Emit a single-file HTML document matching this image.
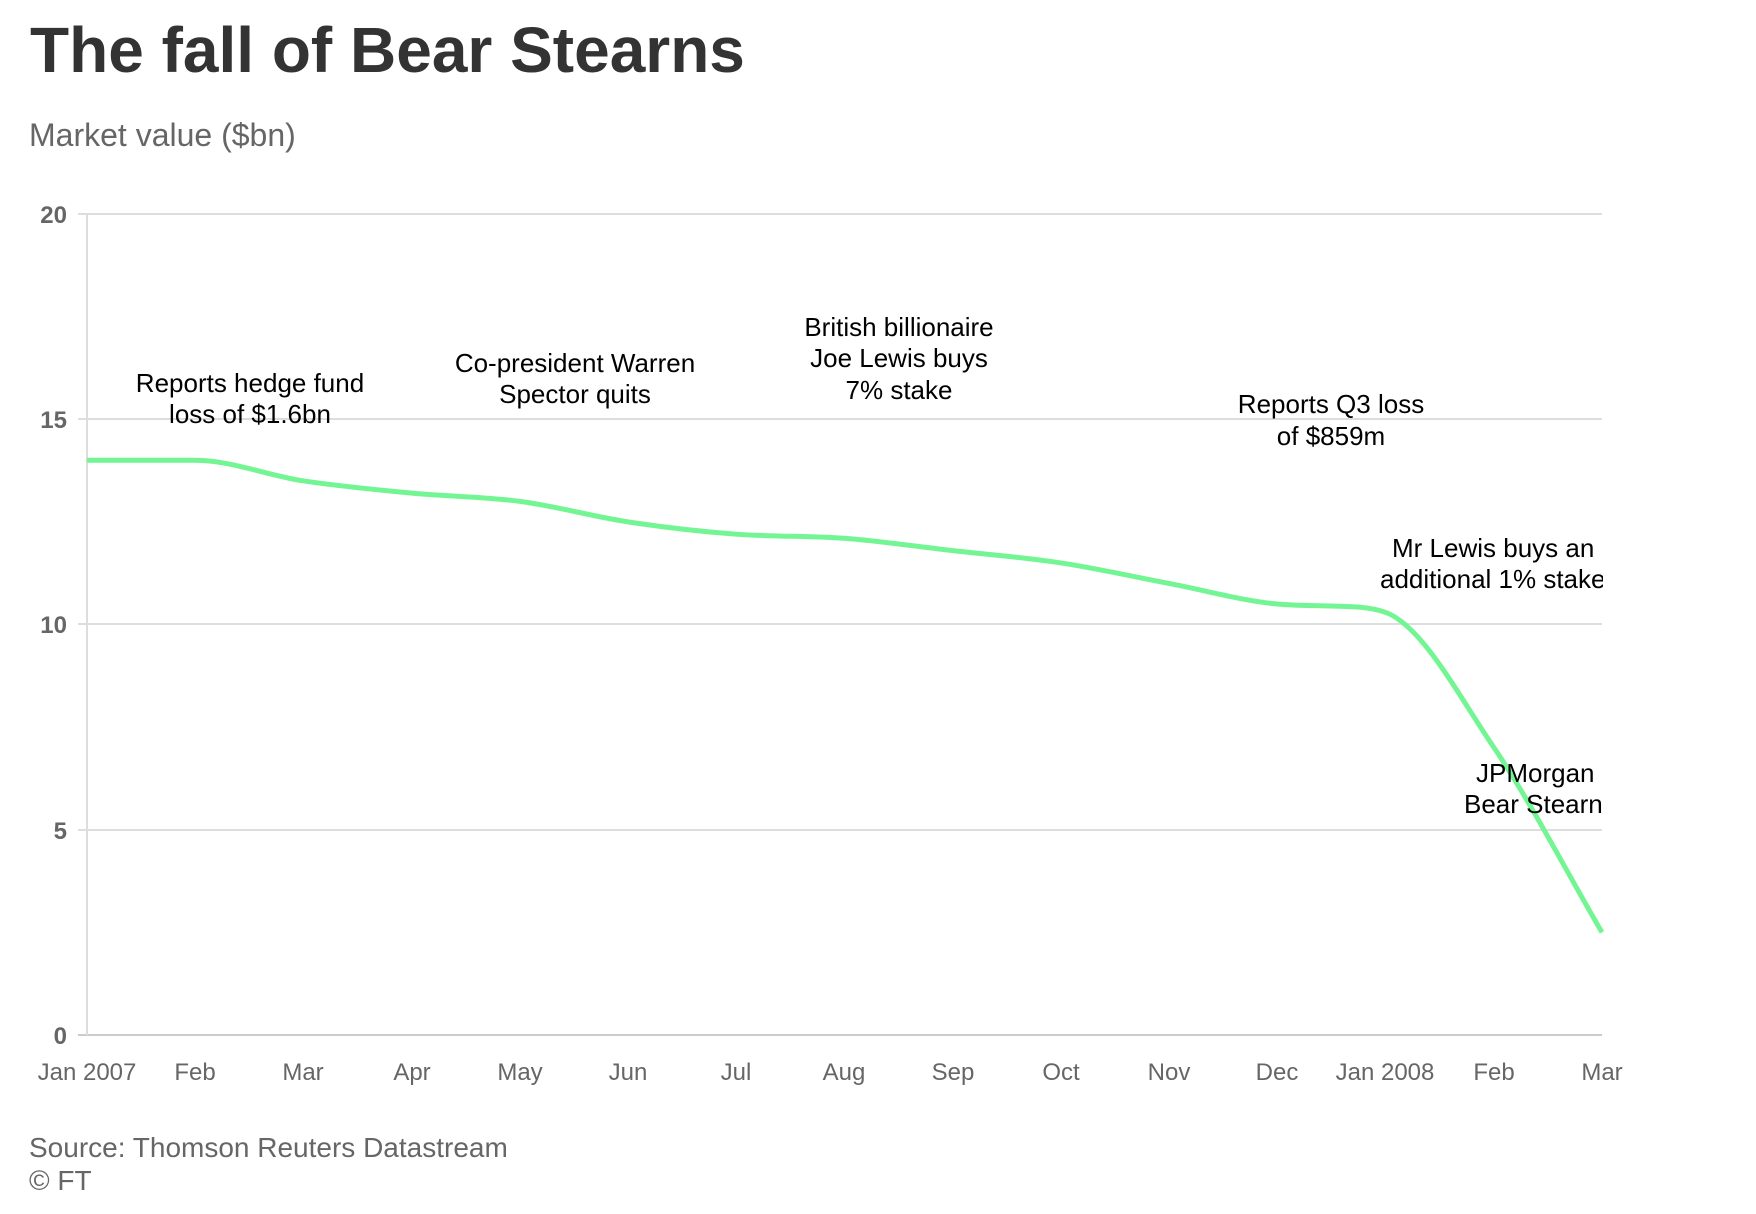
<!DOCTYPE html>
<html><head><meta charset="utf-8"><style>
body{margin:0;background:#fff;}
svg{display:block;font-family:"Liberation Sans",Arial,sans-serif;}
</style></head><body>
<svg width="1756" height="1214" viewBox="0 0 1756 1214" xmlns="http://www.w3.org/2000/svg">
<defs><clipPath id="c"><rect x="0" y="0" width="1603" height="1214"/></clipPath></defs>
<text x="30" y="72" font-size="64" font-weight="bold" fill="#333">The fall of Bear Stearns</text>
<text x="29" y="146" font-size="32" fill="#666">Market value ($bn)</text>
<g stroke="#ddd" stroke-width="2">
<line x1="78" y1="214" x2="1602" y2="214"/>
<line x1="78" y1="419" x2="1602" y2="419"/>
<line x1="78" y1="624" x2="1602" y2="624"/>
<line x1="78" y1="830" x2="1602" y2="830"/>
<line x1="78" y1="1035" x2="1602" y2="1035" stroke="#ccc"/>
<line x1="87" y1="214" x2="87" y2="1035"/>
</g>
<g font-size="24" font-weight="bold" fill="#666" text-anchor="end">
<text x="67" y="223">20</text><text x="67" y="428">15</text><text x="67" y="633">10</text><text x="67" y="839">5</text><text x="67" y="1044">0</text>
</g>
<g font-size="24" fill="#666" text-anchor="middle">
<text x="87" y="1080">Jan 2007</text><text x="195" y="1080">Feb</text><text x="303" y="1080">Mar</text><text x="412" y="1080">Apr</text><text x="520" y="1080">May</text><text x="628" y="1080">Jun</text><text x="736" y="1080">Jul</text><text x="844" y="1080">Aug</text><text x="953" y="1080">Sep</text><text x="1061" y="1080">Oct</text><text x="1169" y="1080">Nov</text><text x="1277" y="1080">Dec</text><text x="1385" y="1080">Jan 2008</text><text x="1494" y="1080">Feb</text><text x="1602" y="1080">Mar</text>
</g>
<path id="ln" d="" fill="none" stroke="#74f594" stroke-width="5"/>
<g font-size="26" fill="#000" text-anchor="middle">
<text x="250" y="392">Reports hedge fund</text><text x="250" y="423">loss of $1.6bn</text>
<text x="575" y="372">Co-president Warren</text><text x="575" y="403">Spector quits</text>
<text x="899" y="336">British billionaire</text><text x="899" y="367">Joe Lewis buys</text><text x="899" y="399">7% stake</text>
<text x="1331" y="413">Reports Q3 loss</text><text x="1331" y="445">of $859m</text>
</g>
<g font-size="26" fill="#000" clip-path="url(#c)">
<text x="1392" y="557">Mr Lewis buys an</text><text x="1380" y="588">additional 1% stake</text>
<text x="1476" y="782">JPMorgan buys</text><text x="1464" y="813">Bear Stearns</text>
</g>
<text x="29" y="1157" font-size="28" fill="#666">Source: Thomson Reuters Datastream</text>
<text x="29" y="1190" font-size="28" fill="#666">© FT</text>
</svg>
<script>
var v=[14,14,13.5,13.2,13,12.5,12.2,12.1,11.8,11.5,11,10.5,10.45,10.3,7,2.5];
var xs=[87,195,303,412,520,628,736,844,953,1061,1169,1277,1331,1385,1494,1602];
var p=v.map(function(y,i){return [xs[i],1035-41.05*y];});
var n=p.length,s=[],m=[];
for(var i=0;i<n-1;i++)s.push((p[i+1][1]-p[i][1])/(p[i+1][0]-p[i][0]));
m[0]=s[0];m[n-1]=s[n-2];
for(var i=1;i<n-1;i++){m[i]=(s[i-1]*s[i]<=0)?0:(s[i-1]+s[i])/2;}
for(var i=0;i<n-1;i++){if(s[i]==0){m[i]=0;m[i+1]=0;continue;}var a=m[i]/s[i],b=m[i+1]/s[i],h=a*a+b*b;if(h>9){var t=3/Math.sqrt(h);m[i]=t*a*s[i];m[i+1]=t*b*s[i];}}
var d="M"+p[0][0]+","+p[0][1];
for(var i=0;i<n-1;i++){var dx=(p[i+1][0]-p[i][0])/3;
 d+=" C"+(p[i][0]+dx)+","+(p[i][1]+m[i]*dx)+" "+(p[i+1][0]-dx)+","+(p[i+1][1]-m[i+1]*dx)+" "+p[i+1][0]+","+p[i+1][1];}
document.getElementById("ln").setAttribute("d",d);
</script>
</body></html>
